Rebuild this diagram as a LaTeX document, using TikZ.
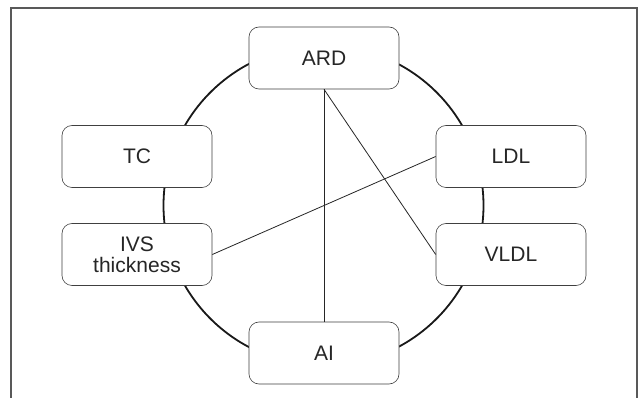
\documentclass[tikz,border=0pt]{standalone}
\usepackage{fontspec}
\setmainfont{Liberation Sans}

\begin{document}
\begin{tikzpicture}[x=1pt, y=-1pt, semithick,
factor/.style ={rectangle, draw=black!75, fill=white, rounded corners=10pt,
  minimum width=150pt, minimum height=62pt, align=center, text=black!85,
  font=\fontsize{21}{21}\selectfont}]

\useasboundingbox (0,0) rectangle (638,398);
\fill[white] (0,0) rectangle (638,398);

\draw[line width=2pt, color=black!65] (11,398) -- (11,8) -- (637,8) -- (637,398);
\draw[line width=1.8pt, color=black!90] (323.5,205.5) circle [radius=160pt];

\node[factor] (ARD) at (324,58) {ARD};
\node[factor] (TC) at (137,156.5) {TC};
\node[factor] (LDL) at (511,156.5) {LDL};
\node[factor] (IVS) at (137,254.5) {IVS\\thickness};
\node[factor] (VLDL) at (511,254.5) {VLDL};
\node[factor] (AI) at (324,353) {AI};

\draw[line width=0.8pt, color=black!85] (ARD) -- (AI);
\draw[line width=0.8pt, color=black!85] (ARD.south) -- (VLDL.west);
\draw[line width=0.8pt, color=black!85] (IVS.east) -- (LDL.west);

\end{tikzpicture}
\end{document}
